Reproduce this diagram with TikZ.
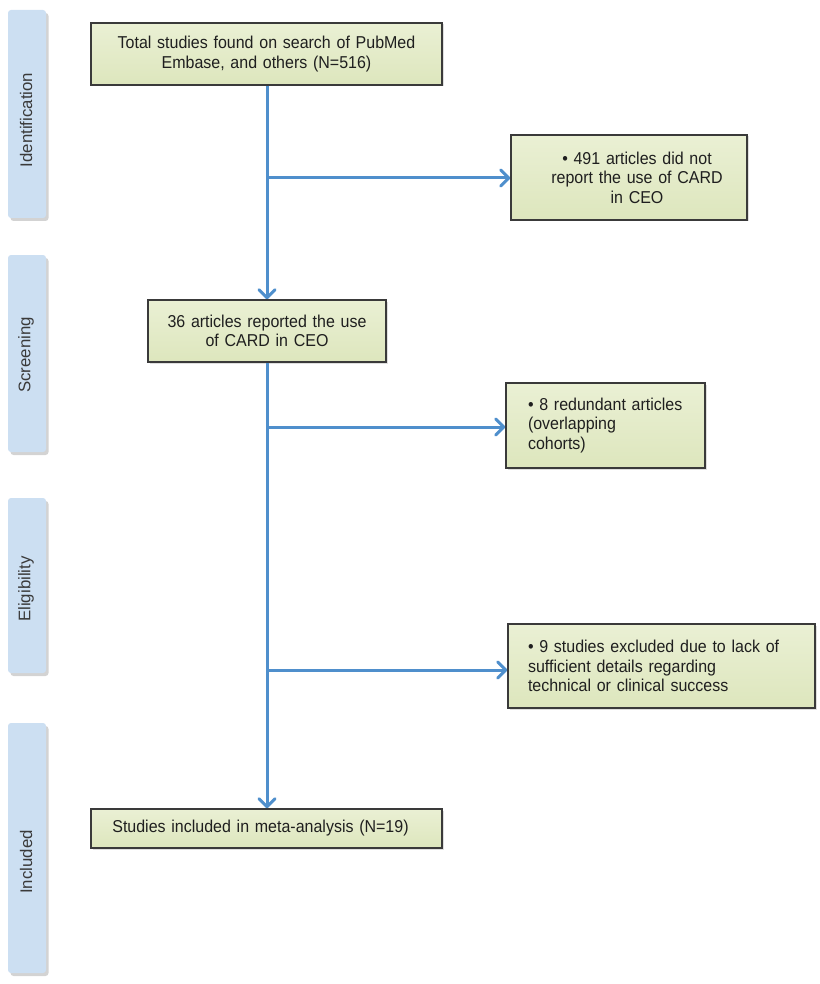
\documentclass[tikz,border=0pt]{standalone}
\usepackage{fontspec}
\setmainfont{Liberation Sans}
\newfontfamily\boxfont{Liberation Sans}[FakeStretch=0.93]
\usetikzlibrary{arrows.meta,shadows}
\definecolor{boxfillA}{HTML}{EAF0D4}
\definecolor{boxfillB}{HTML}{DDE6BD}
\definecolor{boxline}{HTML}{3A3A3A}
\definecolor{flowblue}{HTML}{4F8FCC}
\definecolor{barfill}{HTML}{CCDFF2}
\definecolor{bartext}{HTML}{3A3A3A}
\begin{document}
\begin{tikzpicture}[x=1pt,y=-1pt,
  stagebox/.style={draw=boxline, line width=1.4pt, top color=boxfillA, bottom color=boxfillB,
    drop shadow={shadow xshift=1.5pt, shadow yshift=-1.5pt, opacity=0.25, fill=gray},
    font=\boxfont\fontsize{17.2}{19.5}\selectfont, text=black!88, inner ysep=0pt},
  phasebar/.style={fill=barfill, rounded corners=3pt, draw=none,
    drop shadow={shadow xshift=2.5pt, shadow yshift=-3pt, opacity=0.35, fill=gray}},
  phaselabel/.style={rotate=90, font=\fontsize{16.8}{19}\selectfont, text=bartext},
  flow/.style={draw=flowblue, line width=3pt, line join=round,
    -{Straight Barb[length=8pt,width=16pt,line width=3pt,round]}}]
\useasboundingbox (0,0) rectangle (819,984);

% phase bars
\node[phasebar, minimum width=38pt, minimum height=208pt] (idbar) at (27,114) {};
\node[phasebar, minimum width=38pt, minimum height=197pt] (scbar) at (27,353.5) {};
\node[phasebar, minimum width=38pt, minimum height=175pt] (elbar) at (27,585.5) {};
\node[phasebar, minimum width=38pt, minimum height=250pt] (inbar) at (27,848) {};
\node[phaselabel] (idlab) at (26,120) {Identification};
\node[phaselabel] (sclab) at (26,355) {Screening};
\node[phaselabel] (ellab) at (26,589) {Eligibility};
\node[phaselabel] (inlab) at (26,862) {Included};

% boxes
\node[stagebox, minimum width=351pt, minimum height=62pt, text width=340pt, align=center] (b1) at (266.5,54)
  {Total studies found on search of PubMed\\Embase, and others (N=516)};
\node[stagebox, minimum width=238pt, minimum height=62pt, text width=228pt, align=center] (b2) at (267,331)
  {36 articles reported the use\\of CARD in CEO};
\node[stagebox, minimum width=236pt, minimum height=85pt, text width=226pt, align=center] (b3) at (629,177.5)
  {\hspace*{16pt}\textbullet\ 491 articles did not\\\hspace*{16pt}report the use of CARD\\\hspace*{16pt}in CEO};
\node[stagebox, minimum width=199pt, minimum height=85pt, inner xsep=22pt, text width=155pt, align=left] (b4) at (605.5,425.5)
  {\textbullet\ 8 redundant articles\\(overlapping\\cohorts)};
\node[stagebox, minimum width=307pt, minimum height=84pt, inner xsep=20pt, text width=267pt, align=left] (b5) at (661.5,666)
  {\textbullet\ 9 studies excluded due to lack of\\sufficient details regarding\\technical or clinical success};
\node[stagebox, minimum width=351pt, minimum height=39pt, text width=340pt, align=center] (b6) at (266.5,828.5)
  {Studies included in meta-analysis (N=19)\hspace*{12pt}};

% junctions on the trunk
\coordinate (j1) at (267,178);
\coordinate (j2) at (267,427);
\coordinate (j3) at (267,670);

% connectors
\draw[flow] (b1.south -| j1) -- (b2.north -| j1);
\draw[flow] (b2.south -| j1) -- (b6.north -| j1);
\draw[flow] (j1) -- (j1 -| b3.west);
\draw[flow] (j2) -- (j2 -| b4.west);
\draw[flow] (j3) -- (j3 -| b5.west);
\end{tikzpicture}
\end{document}
